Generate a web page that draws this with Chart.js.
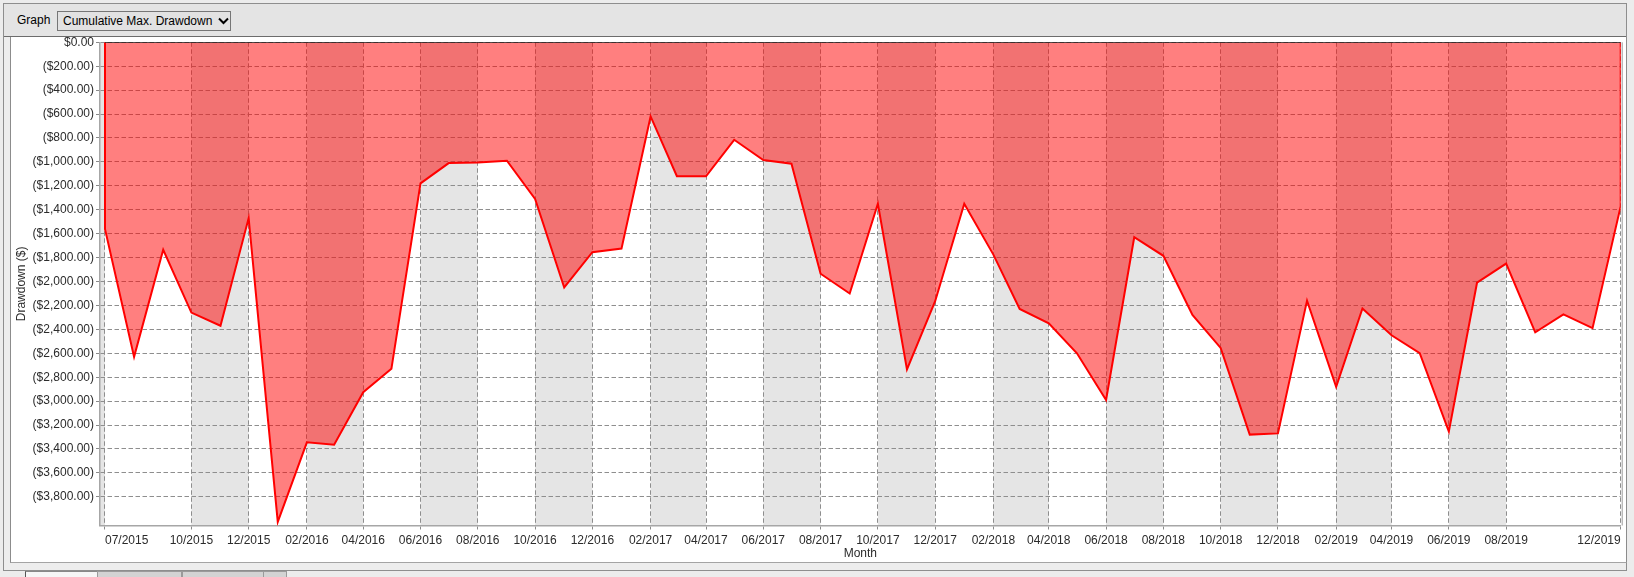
<!DOCTYPE html>
<html>
<head>
<meta charset="utf-8">
<script src="https://cdn.jsdelivr.net/npm/chart.js@4.4.0/dist/chart.umd.min.js"></script>
<style>
html,body{margin:0;padding:0;width:1634px;height:577px;overflow:hidden;background:#ececec;font-family:"Liberation Sans",Arial,sans-serif;}
#outer{position:absolute;left:3px;top:3px;width:1622px;height:566px;border:1px solid #8e8e8e;background:#ededed;}
#toolbar{position:absolute;left:4px;top:4px;width:1622px;height:32px;background:#e4e4e4;border-bottom:1px solid #6c6c6c;}
#panel{position:absolute;left:10px;top:37px;width:1615px;height:525px;background:#ffffff;border-left:1px solid #8c8c8c;border-bottom:1px solid #a4a4a4;border-right:1px solid #8c8c8c;}
#glabel{position:absolute;font-size:12px;color:#000;line-height:14px;}
#combo{position:absolute;width:172px;height:18px;border:1px solid #767676;background:#e2e2e2;font-size:12px;line-height:18px;color:#000;}
#combo span{position:absolute;left:5px;top:0;}
#combo svg{position:absolute;left:160px;top:5px;}
.tab{position:absolute;top:571px;height:12px;}
#c{position:absolute;left:0;top:0;width:1634px;height:577px;}
</style>
</head>
<body>
<div id="outer"></div>
<div id="toolbar">
  <div id="glabel" style="left:13px;top:9px;">Graph</div>
  <div id="combo" style="left:53px;top:7px;"><span>Cumulative Max. Drawdown</span>
    <svg width="11" height="8" viewBox="0 0 11 8"><polyline points="1,1.5 5.5,6 10,1.5" fill="none" stroke="#000" stroke-width="2"/></svg>
  </div>
</div>
<div id="panel"></div>
<div class="tab" style="left:25px;width:72px;background:#f6f6f6;border-left:1px solid #555;border-top:1px solid #888;"></div>
<div class="tab" style="left:97px;width:83px;background:#d3d3d3;border:1px solid #9a9a9a;"></div>
<div class="tab" style="left:182px;width:80px;background:#d3d3d3;border:1px solid #9a9a9a;"></div>
<div class="tab" style="left:263px;width:22px;background:#d3d3d3;border:1px solid #9a9a9a;"></div>
<canvas id="c" width="1634" height="577"></canvas>
<script>
// ---- data ----
const months = [
  '2015-07','2015-08','2015-09','2015-10','2015-11','2015-12',
  '2016-01','2016-02','2016-03','2016-04','2016-05','2016-06','2016-07','2016-08','2016-09','2016-10','2016-11','2016-12',
  '2017-01','2017-02','2017-03','2017-04','2017-05','2017-06','2017-07','2017-08','2017-09','2017-10','2017-11','2017-12',
  '2018-01','2018-02','2018-03','2018-04','2018-05','2018-06','2018-07','2018-08','2018-09','2018-10','2018-11','2018-12',
  '2019-01','2019-02','2019-03','2019-04','2019-05','2019-06','2019-07','2019-08','2019-09','2019-10','2019-11','2019-12'
];
const drawdown = [
  -1560,-2630,-1735,-2260,-2370,-1470,
  -4010,-3345,-3365,-2925,-2730,-1180,-1010,-1005,-990,-1310,-2050,-1755,
  -1725,-620,-1120,-1120,-815,-985,-1015,-1935,-2100,-1350,-2735,-2165,
  -1350,-1775,-2230,-2350,-2600,-2990,-1630,-1785,-2280,-2555,-3280,-3270,
  -2160,-2880,-2225,-2450,-2600,-3255,-2010,-1850,-2425,-2275,-2390,-1370
];
const xTickLabels = [
  '07/2015','10/2015','12/2015','02/2016','04/2016','06/2016','08/2016','10/2016','12/2016',
  '02/2017','04/2017','06/2017','08/2017','10/2017','12/2017','02/2018','04/2018','06/2018',
  '08/2018','10/2018','12/2018','02/2019','04/2019','06/2019','08/2019','12/2019'
];
const yTickValues = [0,-200,-400,-600,-800,-1000,-1200,-1400,-1600,-1800,-2000,-2200,-2400,-2600,-2800,-3000,-3200,-3400,-3600,-3800];
const yAxisMin = -4040;

// ---- helpers ----
const DAY = 86400000;
const START = Date.UTC(2015, 6, 1);
function dayOffset(y, m) { return (Date.UTC(y, m - 1, 1) - START) / DAY; }
const monthX = months.map(s => { const p = s.split('-').map(Number); return dayOffset(p[0], p[1]); });
const xTickX = xTickLabels.map(s => { const p = s.split('/').map(Number); return dayOffset(p[1], p[0]); });
const lastX = monthX[monthX.length - 1];

const areaData = [{x: monthX[0], y: 0}]
  .concat(months.map((_, i) => ({x: monthX[i], y: drawdown[i]})))
  .concat([{x: lastX, y: 0}]);
const baseData = [{x: monthX[0], y: 0}, {x: lastX, y: 0}];

function fmtMoney(v) {
  const s = '$' + Math.abs(v).toLocaleString('en-US', {minimumFractionDigits: 2, maximumFractionDigits: 2});
  return v < 0 ? '(' + s + ')' : s;
}

const FONT = {family: '"Liberation Sans", Arial, sans-serif', size: 12};
const TXT = '#2b2b2b';
const GRID = '#8e8e8e';

const bandPlugin = {
  id: 'bands',
  beforeDraw(chart) {
    const {ctx, chartArea: a, scales: {x}} = chart;
    const bounds = [x.min].concat(xTickX);
    if (bounds[bounds.length - 1] < x.max) bounds.push(x.max);
    ctx.save();
    ctx.fillStyle = '#e5e5e5';
    for (let i = 0; i < bounds.length - 1; i++) {
      if (i % 2 === 0) {
        const x1 = x.getPixelForValue(bounds[i]);
        const x2 = x.getPixelForValue(bounds[i + 1]);
        ctx.fillRect(x1, a.top, x2 - x1, a.bottom - a.top);
      }
    }
    ctx.restore();
  },
  afterDraw(chart) {
    const {ctx, chartArea: a} = chart;
    ctx.save();
    ctx.strokeStyle = '#9a9a9a';
    ctx.lineWidth = 1;
    ctx.beginPath();
    ctx.moveTo(a.right + 1.5, a.top);
    ctx.lineTo(a.right + 1.5, a.bottom);
    ctx.stroke();
    ctx.restore();
  }
};

new Chart(document.getElementById('c'), {
  type: 'line',
  data: {
    datasets: [
      {data: baseData, borderColor: '#1a1a1a', borderWidth: 1.5, pointRadius: 0, fill: false},
      {data: areaData, borderColor: '#ff0000', borderWidth: 2, pointRadius: 0, tension: 0,
       fill: 'origin', backgroundColor: 'rgba(255,0,0,0.5)'}
    ]
  },
  options: {
    responsive: false,
    animation: false,
    devicePixelRatio: 1,
    layout: {padding: {top: 42.3, right: 13.3, bottom: 14, left: 0}},
    plugins: {legend: {display: false}, tooltip: {enabled: false}},
    scales: {
      x: {
        type: 'linear',
        min: -5.3,
        max: lastX,
        afterBuildTicks: s => { s.ticks = xTickX.map(v => ({value: v})); },
        afterFit: s => { s.height = 37.5; },
        ticks: {align: 'inner', autoSkip: false, maxRotation: 0, padding: 4, color: TXT, font: FONT,
                callback: (v, i) => xTickLabels[i]},
        grid: {color: GRID, lineWidth: 1, tickLength: 4, tickColor: '#8a8a8a'},
        border: {display: true, color: '#a6a6a6', width: 1.5, dash: [4.5, 2.5]},
        title: {display: true, text: 'Month', color: TXT, font: FONT, padding: {top: 0, bottom: 2}}
      },
      y: {
        min: yAxisMin,
        max: 0,
        afterBuildTicks: s => { s.ticks = yTickValues.map(v => ({value: v})); },
        afterFit: s => { s.width = 100; },
        ticks: {padding: 2, color: TXT, font: FONT, callback: v => fmtMoney(v)},
        grid: {color: GRID, lineWidth: 1, tickLength: 4, tickColor: '#8a8a8a'},
        border: {display: true, color: '#a6a6a6', width: 1.5, dash: [4.5, 2.5]},
        title: {display: true, text: 'Drawdown ($)', color: TXT, font: FONT, padding: {top: 14.5, bottom: 0}}
      }
    }
  },
  plugins: [bandPlugin]
});
</script>
</body>
</html>
